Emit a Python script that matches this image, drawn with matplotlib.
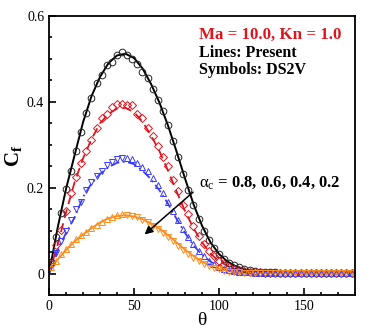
import matplotlib
matplotlib.use("Agg")
import matplotlib.pyplot as plt
from matplotlib.ticker import MultipleLocator

plt.rcParams["font.family"] = ["Liberation Serif", "DejaVu Serif"]
plt.rcParams["mathtext.fontset"] = "custom"
plt.rcParams["mathtext.rm"] = "Liberation Serif"
plt.rcParams["mathtext.it"] = "Liberation Serif:italic"
plt.rcParams["mathtext.bf"] = "Liberation Serif:bold"

# present method (lines), theta every 5 deg
theta_line = [0, 5, 10, 15, 20, 25, 30, 35, 40, 45, 50, 55, 60, 65, 70, 75, 80, 85, 90,
              95, 100, 105, 110, 115, 120, 125, 130, 135, 140, 145, 150, 155, 160,
              165, 170, 175, 180]
cf_08 = [0.0, 0.105, 0.197, 0.275, 0.352, 0.413, 0.458, 0.490, 0.508, 0.512, 0.502,
         0.478, 0.442, 0.398, 0.345, 0.285, 0.222, 0.162, 0.112, 0.073, 0.046, 0.028,
         0.017, 0.010, 0.006, 0.004, 0.003, 0.002, 0.002, 0.001, 0.001, 0.001, 0.001,
         0.001, 0.001, 0.001, 0.001]
cf_06 = [0.0, 0.066, 0.142, 0.212, 0.268, 0.313, 0.350, 0.372, 0.384, 0.386, 0.376,
         0.354, 0.322, 0.285, 0.240, 0.192, 0.146, 0.106, 0.073, 0.047, 0.029, 0.018,
         0.011, 0.007, 0.004, 0.003, 0.002, 0.002, 0.001, 0.001, 0.001, 0.001, 0.001,
         0.001, 0.001, 0.001, 0.001]
cf_04 = [0.0, 0.052, 0.095, 0.130, 0.178, 0.210, 0.232, 0.248, 0.258, 0.261, 0.255,
         0.240, 0.220, 0.194, 0.163, 0.128, 0.095, 0.066, 0.044, 0.028, 0.017, 0.010,
         0.006, 0.004, 0.003, 0.002, 0.002, 0.001, 0.001, 0.001, 0.001, 0.001, 0.001,
         0.001, 0.001, 0.001, 0.001]
cf_02 = [0.008, 0.032, 0.055, 0.075, 0.091, 0.106, 0.119, 0.129, 0.134, 0.136, 0.133,
         0.127, 0.117, 0.105, 0.090, 0.073, 0.056, 0.041, 0.028, 0.018, 0.011, 0.007,
         0.004, 0.003, 0.002, 0.002, 0.001, 0.001, 0.001, 0.001, 0.001, 0.001, 0.001,
         0.001, 0.001, 0.001, 0.001]

# DS2V (symbols), theta every 3 deg
theta_sym = [1, 4, 7, 10, 13, 16, 19, 22, 25, 28, 31, 34, 37, 40, 43, 46, 49, 52, 55,
             58, 61, 64, 67, 70, 73, 76, 79, 82, 85, 88, 91, 94, 97, 100, 103, 106,
             109, 112, 115, 118, 121, 124, 127, 130, 133, 136, 139, 142, 145, 148,
             151, 154, 157, 160, 163, 166, 169, 172, 175, 178]
ds_08 = [0.028, 0.086, 0.142, 0.196, 0.240, 0.286, 0.330, 0.374, 0.410, 0.445, 0.462,
         0.485, 0.493, 0.510, 0.515, 0.510, 0.500, 0.488, 0.470, 0.455, 0.430, 0.405,
         0.378, 0.345, 0.310, 0.272, 0.233, 0.194, 0.160, 0.128, 0.100, 0.078, 0.060,
         0.046, 0.035, 0.026, 0.020, 0.015, 0.011, 0.008, 0.006, 0.005, 0.004, 0.003,
         0.003, 0.002, 0.002, 0.002, 0.001, 0.001, 0.001, 0.001, 0.001, 0.001, 0.001,
         0.001, 0.001, 0.001, 0.001, 0.001]
ds_06 = [0.022, 0.066, 0.102, 0.146, 0.188, 0.226, 0.258, 0.285, 0.312, 0.338, 0.362,
         0.372, 0.388, 0.394, 0.396, 0.393, 0.392, 0.372, 0.362, 0.340, 0.320, 0.298,
         0.272, 0.250, 0.218, 0.192, 0.160, 0.138, 0.110, 0.088, 0.068, 0.052, 0.040,
         0.030, 0.022, 0.016, 0.012, 0.009, 0.007, 0.005, 0.004, 0.003, 0.002, 0.002,
         0.002, 0.001, 0.001, 0.001, 0.001, 0.001, 0.001, 0.001, 0.001, 0.001, 0.001,
         0.001, 0.001, 0.001, 0.001, 0.001]
ds_04 = [0.018, 0.048, 0.075, 0.100, 0.126, 0.150, 0.168, 0.195, 0.214, 0.228, 0.240,
         0.252, 0.260, 0.266, 0.270, 0.270, 0.266, 0.258, 0.248, 0.238, 0.222, 0.206,
         0.188, 0.168, 0.146, 0.126, 0.104, 0.086, 0.068, 0.052, 0.040, 0.030, 0.022,
         0.016, 0.012, 0.009, 0.007, 0.005, 0.004, 0.003, 0.002, 0.002, 0.002, 0.001,
         0.001, 0.001, 0.001, 0.001, 0.001, 0.001, 0.001, 0.001, 0.001, 0.001, 0.001,
         0.001, 0.001, 0.001, 0.001, 0.001]
ds_02 = [0.015, 0.030, 0.045, 0.058, 0.070, 0.080, 0.089, 0.098, 0.106, 0.114, 0.121,
         0.127, 0.132, 0.136, 0.138, 0.137, 0.135, 0.131, 0.126, 0.120, 0.112, 0.104,
         0.095, 0.085, 0.075, 0.065, 0.055, 0.045, 0.037, 0.029, 0.023, 0.017, 0.013,
         0.010, 0.007, 0.005, 0.004, 0.003, 0.002, 0.002, 0.001, 0.001, 0.001, 0.001,
         0.001, 0.001, 0.001, 0.001, 0.001, 0.001, 0.001, 0.001, 0.001, 0.001, 0.001,
         0.001, 0.001, 0.001, 0.001, 0.001]

fig = plt.figure(figsize=(3.74, 3.32), dpi=100)
ax = fig.add_axes([0.131, 0.111, 0.818, 0.841])

ms = 4.8
mew = 0.7
half = 15  # split of the DS2V symbols into two marker orientations

ax.plot(theta_line, cf_08, "-", color="black", lw=1.4)
ax.plot(theta_line, cf_06, "--", color="#e0141e", lw=1.3, dashes=(5, 3))
ax.plot(theta_line, cf_04, "-.", color="#3a3aff", lw=1.3, dashes=(5, 2, 1, 2))
ax.plot(theta_line, cf_02, "-", color="#ff8c1a", lw=1.3)

ax.plot(theta_sym, ds_08, "o", mfc="none", mec="#222222", ms=ms, mew=mew)
ax.plot(theta_sym, ds_06, "D", mfc="none", mec="#e0141e", ms=ms - 0.9, mew=mew)
ax.plot(theta_sym[:half], ds_04[:half], "v", mfc="none", mec="#3a3aff", ms=ms, mew=mew)
ax.plot(theta_sym[half:], ds_04[half:], "^", mfc="none", mec="#3a3aff", ms=ms, mew=mew)
ax.plot(theta_sym[:half], ds_02[:half], "^", mfc="none", mec="#ff8c1a", ms=ms, mew=mew)
ax.plot(theta_sym[half:], ds_02[half:], "v", mfc="none", mec="#ff8c1a", ms=ms, mew=mew)

ax.set_xlim(0, 180)
ax.set_ylim(-0.05, 0.6)
ax.xaxis.set_major_locator(MultipleLocator(50))
ax.xaxis.set_minor_locator(MultipleLocator(10))
ax.yaxis.set_minor_locator(MultipleLocator(0.05))
ax.set_yticks([0, 0.2, 0.4, 0.6])
ax.set_yticklabels(["0", "0.2", "0.4", "0.6"])
ax.tick_params(which="both", direction="in", labelsize=10, width=1.2)
ax.tick_params(which="major", length=5)
ax.tick_params(which="minor", length=2.5)
for s in ax.spines.values():
    s.set_linewidth(1.3)

ax.set_xlabel("θ", fontsize=14, labelpad=-1)
ax.set_ylabel(r"$\mathbf{C_f}$", fontsize=15, labelpad=2)

ax.text(0.49, 0.96, "Ma = 10.0, Kn = 1.0", transform=ax.transAxes, color="#e0141e",
        fontsize=12.2, fontweight="bold", va="top")
ax.text(0.49, 0.897, "Lines: Present", transform=ax.transAxes, color="black",
        fontsize=11.5, fontweight="bold", va="top")
ax.text(0.49, 0.836, "Symbols: DS2V", transform=ax.transAxes, color="black",
        fontsize=11.5, fontweight="bold", va="top")

ax.text(88.5, 0.212, r"$\mathrm{\alpha_c}$" + " = 0.8, 0.6, 0.4, 0.2", fontsize=12,
        fontweight="bold", va="center")
ax.annotate("", xy=(55, 0.087), xytext=(86, 0.194),
            arrowprops=dict(arrowstyle="-|>", color="black", lw=1.1,
                            mutation_scale=12))

fig.savefig("out.png", dpi=100)
